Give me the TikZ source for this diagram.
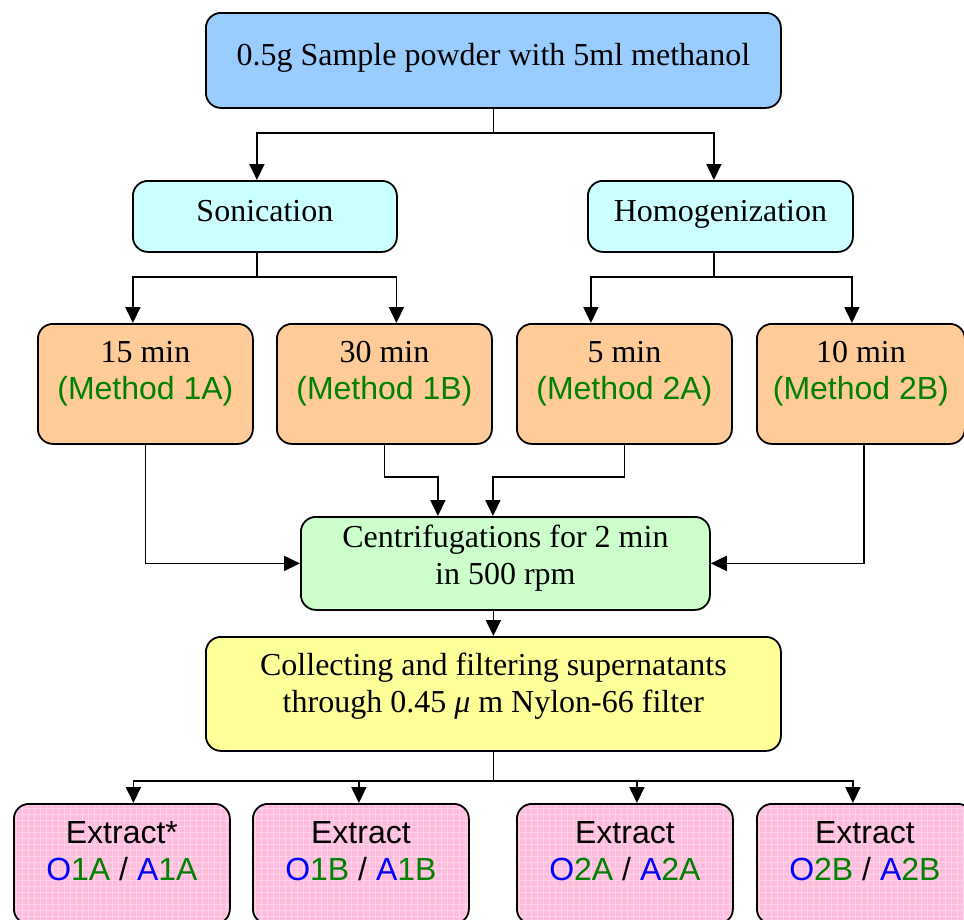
\documentclass[tikz,border=0pt]{standalone}
\usepackage{fontspec}
\setmainfont{Liberation Serif}
\newfontfamily\arialfont{Liberation Sans}
\usetikzlibrary{arrows.meta}

\definecolor{boxblue}{RGB}{153,204,255}
\definecolor{boxcyan}{RGB}{204,255,255}
\definecolor{boxorange}{RGB}{255,204,153}
\definecolor{boxgreen}{RGB}{204,255,204}
\definecolor{boxyellow}{RGB}{255,255,153}
\definecolor{boxpink}{RGB}{255,188,220}
\definecolor{gridpink}{RGB}{255,212,234}
\definecolor{methgreen}{RGB}{0,128,0}
\definecolor{codeblue}{RGB}{0,0,255}

\tikzset{
    stage/.style={draw, line width=1.8pt, rounded corners=15pt, anchor=north west,
        align=center, inner xsep=0pt, inner ysep=0pt, font=\fontsize{32}{37}\selectfont},
    extractbox/.style={stage, minimum width=216pt, text height=77pt, text depth=43pt,
        fill=boxpink, path picture={\draw[gridpink, line width=1pt]
            (path picture bounding box.south west) grid[step=6pt]
            (path picture bounding box.north east);}},
    link/.style={line width=1.8pt, -{Triangle[length=16pt,width=15pt]}},
}
\newcommand{\methlabel}[1]{{\arialfont\color{methgreen}(Method #1)}}
\newcommand{\extractcode}[2]{{\arialfont{\color{codeblue}O}{\color{methgreen}#1} / {\color{codeblue}A}{\color{methgreen}#2}}}

\begin{document}
\begin{tikzpicture}[x=1pt, y=-1pt]
    \clip (0,0) rectangle (964,919);
    % sample and the two treatments
    \node[stage, fill=boxblue, minimum width=575pt, text height=53pt, text depth=42pt]
        (top) at (205,12) {0.5g Sample powder with 5ml methanol};
    \node[stage, fill=boxcyan, minimum width=264pt, text height=41pt, text depth=30pt]
        (son) at (132,180) {Sonication};
    \node[stage, fill=boxcyan, minimum width=265pt, text height=41pt, text depth=30pt]
        (hom) at (587,180) {Homogenization};

    % times
    \tikzset{timebox/.style={stage, fill=boxorange, minimum width=215pt, text height=76pt, text depth=44pt}}
    \node[timebox] (m1a) at (37,323)  {15 min\\ \methlabel{1A}};
    \node[timebox] (m1b) at (276,323) {30 min\\ \methlabel{1B}};
    \node[timebox] (m2a) at (516,323) {5 min\\ \methlabel{2A}};
    \node[timebox, minimum width=208pt] (m2b) at (756,323) {10 min\\ \methlabel{2B}};

    \node[stage, fill=boxgreen, minimum width=409pt, text height=68pt, text depth=25pt]
        (cen) at (300,516) {Centrifugations for 2 min\\ in 500 rpm};
    \node[stage, fill=boxyellow, minimum width=575pt, text height=76pt, text depth=38pt]
        (coll) at (205,636) {Collecting and filtering supernatants\\ through 0.45 \textit{μ} m Nylon-66 filter};

    % extracts
    \node[extractbox] (ex1) at (13,803)  {\arialfont Extract*\\ \extractcode{1A}{1A}};
    \node[extractbox] (ex2) at (252,803) {\arialfont Extract\\ \extractcode{1B}{1B}};
    \node[extractbox] (ex3) at (516,803) {\arialfont Extract\\ \extractcode{2A}{2A}};
    \node[extractbox] (ex4) at (756,803) {\arialfont Extract\\ \extractcode{2B}{2B}};

    % connectors
    \draw[link] (top.south) -- ++(0,24) -| ([xshift=-8pt]son.north);
    \draw[link] (top.south) -- ++(0,24) -| ([xshift=-6.5pt]hom.north);
    \draw[link] ([xshift=-8pt]son.south) -- ++(0,24) -| ([xshift=-12.5pt]m1a.north);
    \draw[link] ([xshift=-8pt]son.south) -- ++(0,24) -| ([xshift=12pt]m1b.north);
    \draw[link] ([xshift=-6.5pt]hom.south) -- ++(0,24) -| ([xshift=-33.5pt]m2a.north);
    \draw[link] ([xshift=-6.5pt]hom.south) -- ++(0,24) -| ([xshift=-9pt]m2b.north);
    \draw[link] (m1a.south) |- (cen.west);
    \draw[link] (m1b.south) -- ++(0,32) -| ([xshift=-67.5pt]cen.north);
    \draw[link] (m2a.south) -- ++(0,32) -| ([xshift=-12.5pt]cen.north);
    \draw[link] ([xshift=3pt]m2b.south) |- (cen.east);
    \draw[link] (coll.north |- cen.south) -- (coll.north);
    \draw[link] (coll.south) -- ++(0,29) -| ([xshift=11.5pt]ex1.north);
    \draw[link] (coll.south) -- ++(0,29) -| ([xshift=-2pt]ex2.north);
    \draw[link] (coll.south) -- ++(0,29) -| ([xshift=12pt]ex3.north);
    \draw[link] (coll.south) -- ++(0,29) -| ([xshift=-12pt]ex4.north);
\end{tikzpicture}
\end{document}
